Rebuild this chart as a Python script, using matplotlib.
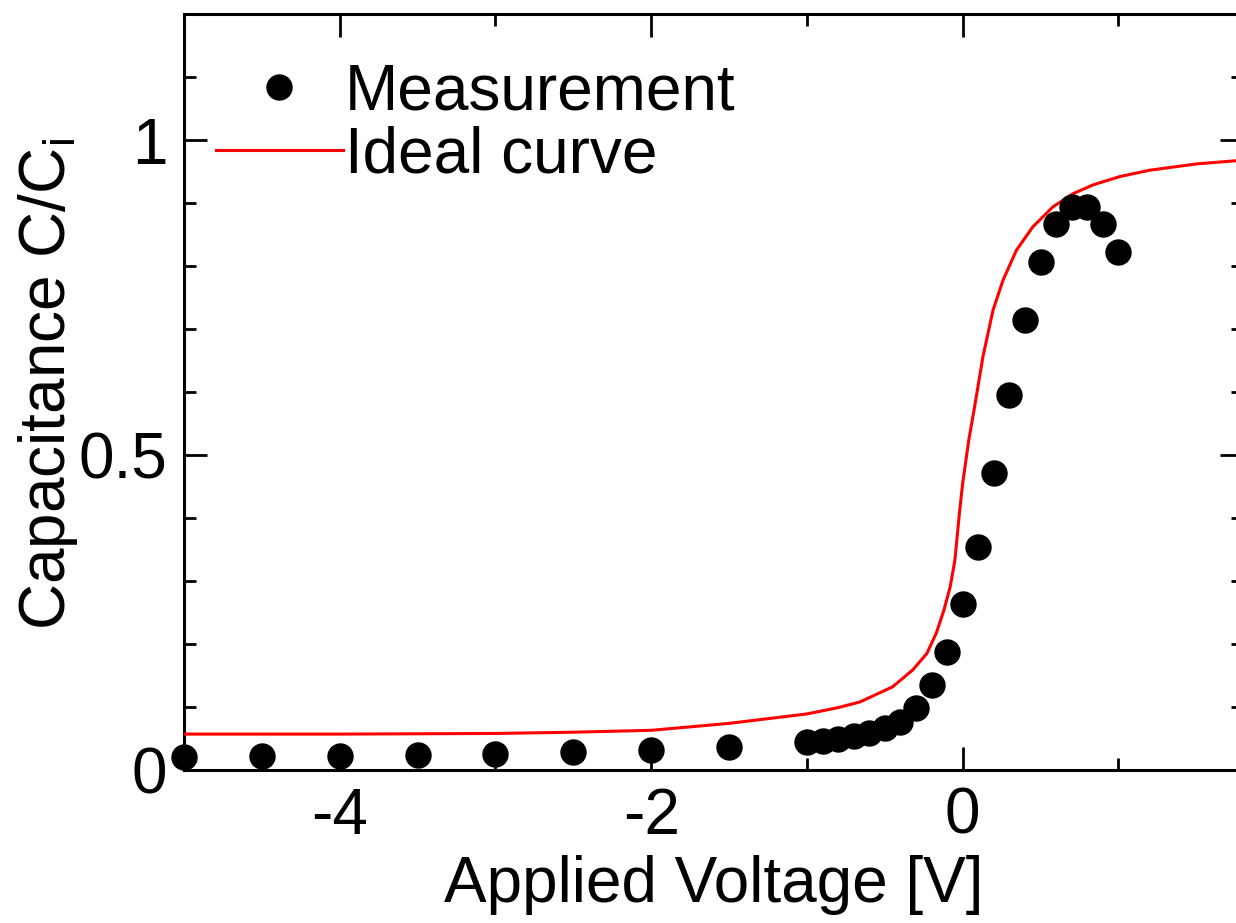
import numpy as np
import matplotlib
matplotlib.use('Agg')
import matplotlib.pyplot as plt
from matplotlib.ticker import MultipleLocator

plt.rcParams['font.family'] = ['Liberation Sans', 'DejaVu Sans']
plt.rcParams['mathtext.default'] = 'regular'
plt.rcParams['axes.unicode_minus'] = False

# measured C/Ci points
meas_v = [-5, -4.5, -4, -3.5, -3, -2.5, -2, -1.5, -1,
          -0.9, -0.8, -0.7, -0.6, -0.5, -0.4, -0.3, -0.2, -0.1,
          0, 0.1, 0.2, 0.3, 0.4, 0.5, 0.6, 0.7, 0.8, 0.9, 1.0]
meas_c = [0.021, 0.022, 0.022, 0.024, 0.026, 0.029, 0.031, 0.037, 0.045,
          0.046, 0.049, 0.054, 0.059, 0.067, 0.076, 0.098, 0.135, 0.188,
          0.263, 0.354, 0.471, 0.595, 0.715, 0.806, 0.866, 0.893, 0.894, 0.866, 0.822]

# ideal curve
ideal_v = [-5, -4, -3, -2.5, -2, -1.5, -1, -0.8, -0.66, -0.45, -0.32, -0.23,
           -0.17, -0.12, -0.08, -0.05, -0.02, 0, 0.04, 0.077, 0.13, 0.195, 0.26,
           0.345, 0.45, 0.58, 0.71, 0.84, 1.01, 1.2, 1.5, 1.8]
ideal_c = [0.057, 0.057, 0.058, 0.060, 0.063, 0.074, 0.089, 0.099, 0.108, 0.132,
           0.159, 0.185, 0.217, 0.254, 0.291, 0.333, 0.410, 0.455, 0.525, 0.577,
           0.656, 0.730, 0.778, 0.825, 0.862, 0.894, 0.915, 0.929, 0.942, 0.952,
           0.962, 0.968]

fig = plt.figure(figsize=(12.36, 9.23), dpi=100)
ax = fig.add_axes([184/1236, 1 - 770/923, (1243 - 184)/1236, (770 - 14)/923])

ax.plot(ideal_v, ideal_c, color='red', lw=2.2, label='Ideal curve', zorder=3)
ax.plot(meas_v, meas_c, 'o', color='black', ms=18, label='Measurement',
        clip_on=False, zorder=5)

ax.set_xlim(-5, 1.8)
ax.set_ylim(0, 1.2)
ax.xaxis.set_major_locator(MultipleLocator(2))
ax.xaxis.set_minor_locator(MultipleLocator(1))
ax.yaxis.set_minor_locator(MultipleLocator(0.1))
ax.set_yticks([0, 0.5, 1])
ax.set_yticklabels(['0', '0.5', '1'])

ax.tick_params(which='both', direction='in', top=True, right=True, width=2,
               labelsize=46)
ax.tick_params(which='major', length=16.5)
ax.tick_params(which='minor', length=8.5)
ax.tick_params(axis='x', pad=12)
ax.tick_params(axis='y', pad=12)
for s in ax.spines.values():
    s.set_linewidth(2.2)

ax.set_xlabel('Applied Voltage [V]', fontsize=46)
ax.set_ylabel('Capacitance C/C$_i$', fontsize=46)
ax.xaxis.set_label_coords((714 - 184)/(1243 - 184), -(855 - 770)/756)
ax.yaxis.set_label_coords(-(184 - 80)/(1243 - 184), (770 - 384)/756)

h, l = ax.get_legend_handles_labels()
leg = ax.legend(h[::-1], l[::-1], loc='upper left', frameon=False, fontsize=46,
                handlelength=2, handletextpad=0.03, labelspacing=0.05,
                borderaxespad=0, bbox_to_anchor=(6/1059, (770 - 37)/756))

fig.savefig('out.png', dpi=100)
